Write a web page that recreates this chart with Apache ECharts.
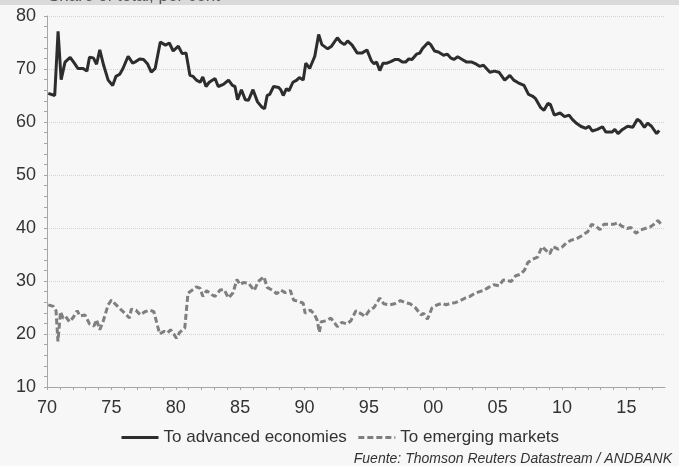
<!DOCTYPE html>
<html>
<head>
<meta charset="utf-8">
<title>Share of total, per cent</title>
<script src="https://cdn.jsdelivr.net/npm/echarts@6/dist/echarts.min.js"></script>
<style>
    html, body { margin: 0; padding: 0; background: #f7f7f7; }
    #chart { width: 679px; height: 466px; }
</style>
</head>
<body>
<div id="chart"></div>
<script>
// values (year as decimal, share in per cent)
var advYears = [1970.1, 1970.6, 1970.86, 1971.1, 1971.4, 1971.55, 1971.8, 1972.15, 1972.4, 1972.8,
    1973.1, 1973.3, 1973.6, 1973.85, 1974.1, 1974.4, 1974.75, 1975.1, 1975.35, 1975.65,
    1975.9, 1976.3, 1976.65, 1976.9, 1977.2, 1977.5, 1977.8, 1978.1, 1978.4, 1978.8,
    1979.2, 1979.5, 1979.8, 1980.2, 1980.5, 1980.8, 1981.1, 1981.35, 1981.6, 1981.9,
    1982.1, 1982.35, 1982.6, 1983.05, 1983.3, 1983.7, 1984.1, 1984.4, 1984.6, 1984.8,
    1985.1, 1985.4, 1985.65, 1986.0, 1986.35, 1986.7, 1986.9, 1987.1, 1987.3, 1987.6,
    1988.0, 1988.15, 1988.35, 1988.6, 1988.8, 1989.1, 1989.4, 1989.6, 1989.9, 1990.1,
    1990.4, 1990.8, 1991.1, 1991.35, 1991.8, 1992.1, 1992.55, 1992.8, 1993.1, 1993.35,
    1993.7, 1994.1, 1994.45, 1994.85, 1995.2, 1995.4, 1995.6, 1995.85, 1996.1, 1996.4,
    1996.7, 1997.05, 1997.3, 1997.6, 1997.85, 1998.1, 1998.35, 1998.7, 1998.95, 1999.15,
    1999.3, 1999.6, 1999.8, 2000.1, 2000.4, 2000.8, 2001.1, 2001.35, 2001.6, 2001.9,
    2002.25, 2002.6, 2003.0, 2003.35, 2003.6, 2003.9, 2004.4, 2004.75, 2005.1, 2005.55,
    2005.95, 2006.25, 2006.6, 2007.05, 2007.4, 2007.7, 2007.95, 2008.35, 2008.6, 2008.9,
    2009.1, 2009.4, 2009.85, 2010.2, 2010.55, 2010.8, 2011.15, 2011.45, 2011.85, 2012.1,
    2012.35, 2012.75, 2013.15, 2013.4, 2013.9, 2014.1, 2014.35, 2014.7, 2015.1, 2015.5,
    2015.85, 2016.05, 2016.4, 2016.65, 2016.95, 2017.35, 2017.55];
var advValues = [65.4, 65.0, 77.1, 68.0, 71.3, 71.1, 72.2, 71.0, 70.1, 70.1,
    69.6, 72.2, 72.1, 70.9, 73.6, 70.7, 67.9, 66.9, 68.6, 69.0,
    70.1, 72.4, 71.1, 71.4, 71.9, 71.8, 71.0, 69.4, 70.1, 75.1,
    74.5, 74.9, 73.4, 74.3, 72.9, 73.0, 68.8, 68.6, 67.9, 67.5,
    68.5, 66.7, 67.5, 68.2, 66.7, 67.1, 67.9, 66.9, 66.7, 64.2,
    66.1, 64.2, 64.1, 66.1, 63.8, 62.8, 62.5, 65.0, 65.2, 66.7,
    66.5, 66.1, 65.0, 66.3, 65.9, 67.5, 67.9, 68.4, 67.9, 71.1,
    70.1, 72.4, 76.5, 74.6, 73.8, 74.3, 75.9, 75.1, 74.6, 75.3,
    74.5, 73.0, 73.0, 73.6, 71.5, 71.0, 71.3, 69.7, 71.1, 71.1,
    71.4, 71.8, 71.8, 71.3, 71.3, 71.9, 71.8, 72.8, 73.0, 73.8,
    73.6, 75.0, 74.6, 73.4, 73.2, 72.6, 72.8, 72.1, 71.8, 72.3,
    71.8, 71.3, 71.3, 70.9, 70.5, 70.7, 69.4, 69.6, 69.4, 67.9,
    68.8, 67.9, 67.4, 66.9, 65.2, 64.9, 64.4, 62.7, 62.2, 63.5,
    63.3, 61.3, 61.7, 61.0, 61.3, 60.5, 59.7, 59.2, 58.8, 59.2,
    58.3, 58.6, 59.1, 58.1, 58.1, 58.6, 57.8, 58.6, 59.2, 59.0,
    60.5, 60.2, 59.0, 59.8, 59.2, 57.8, 58.4];

var emYears = [1970.1, 1970.5, 1970.7, 1970.85, 1971.05, 1971.25, 1971.45, 1971.75, 1972.0, 1972.35,
    1972.55, 1972.95, 1973.1, 1973.3, 1973.65, 1973.85, 1974.1, 1974.35, 1974.75, 1975.0,
    1975.45, 1975.7, 1976.1, 1976.4, 1976.55, 1976.9, 1977.25, 1977.6, 1978.0, 1978.3,
    1978.75, 1979.1, 1979.35, 1979.6, 1979.85, 1980.05, 1980.3, 1980.7, 1980.95, 1981.35,
    1981.6, 1981.9, 1982.1, 1982.4, 1982.8, 1983.05, 1983.45, 1983.75, 1984.1, 1984.45,
    1984.75, 1985.0, 1985.25, 1985.65, 1986.1, 1986.4, 1986.85, 1987.1, 1987.55, 1987.85,
    1988.15, 1988.5, 1988.9, 1989.15, 1989.6, 1989.9, 1990.05, 1990.45, 1990.75, 1991.0,
    1991.15, 1991.3, 1991.7, 1992.05, 1992.55, 1992.9, 1993.3, 1993.6, 1994.0, 1994.4,
    1994.7, 1995.05, 1995.4, 1995.85, 1996.15, 1996.6, 1997.0, 1997.45, 1997.85, 1998.2,
    1998.6, 1999.05, 1999.25, 1999.55, 1999.9, 2000.3, 2000.7, 2001.0, 2001.35, 2001.7,
    2002.1, 2002.5, 2002.85, 2003.25, 2003.6, 2003.9, 2004.3, 2004.7, 2005.1, 2005.45,
    2005.75, 2006.05, 2006.4, 2006.8, 2007.1, 2007.35, 2007.7, 2008.1, 2008.45, 2008.8,
    2009.05, 2009.3, 2009.7, 2010.0, 2010.35, 2010.7, 2011.15, 2011.5, 2012.0, 2012.3,
    2012.6, 2012.95, 2013.25, 2013.65, 2014.0, 2014.35, 2014.6, 2015.05, 2015.35, 2015.75,
    2016.05, 2016.45, 2016.85, 2017.15, 2017.45, 2017.7];
var emValues = [25.5, 25.2, 24.4, 18.6, 24.2, 23.0, 23.3, 22.3, 23.0, 24.4,
    23.4, 23.6, 23.6, 21.9, 21.5, 22.7, 20.8, 22.3, 25.5, 26.4,
    25.3, 24.7, 23.8, 23.0, 24.7, 24.5, 23.6, 24.2, 24.5, 24.2,
    20.0, 20.5, 20.2, 20.8, 20.0, 19.2, 20.3, 21.1, 27.7, 28.4,
    28.9, 28.6, 27.1, 28.2, 27.4, 27.1, 28.3, 28.4, 26.8, 27.8,
    30.3, 29.3, 29.7, 29.6, 28.2, 29.9, 30.8, 28.8, 28.2, 27.6,
    28.3, 27.8, 28.2, 26.4, 26.1, 25.8, 23.9, 24.5, 23.8, 22.5,
    20.3, 22.3, 22.5, 23.0, 21.4, 22.2, 21.9, 22.5, 24.4, 23.8,
    23.3, 24.5, 25.0, 26.8, 25.7, 25.5, 25.7, 26.3, 25.9, 25.7,
    25.0, 23.6, 23.9, 22.8, 24.9, 25.5, 25.8, 25.5, 25.8, 25.9,
    26.3, 26.8, 27.1, 27.7, 28.0, 28.2, 28.8, 29.3, 29.1, 30.2,
    30.1, 29.9, 31.0, 31.3, 32.1, 33.5, 34.1, 34.5, 36.5, 35.7,
    35.1, 36.5, 36.0, 36.4, 37.2, 37.7, 38.0, 38.5, 39.3, 40.7,
    40.4, 39.7, 40.7, 40.7, 40.7, 41.0, 40.4, 39.9, 40.1, 39.0,
    39.6, 39.9, 40.2, 40.7, 41.4, 40.7];

var seriesNames = ["To advanced economies", "To emerging markets"];
var titleText = "Share of total, per cent";
var sourceText = "Fuente: Thomson Reuters Datastream / ANDBANK";

function pairs(xs, ys) {
    var out = [];
    for (var i = 0; i < xs.length; ++i) {
        out.push([xs[i], ys[i]]);
    }
    return out;
}

var font = "'Liberation Sans', Arial, sans-serif";
var chart = echarts.init(document.getElementById("chart"), null, { renderer: "canvas" });

var option = {
    animation: false,
    backgroundColor: "#f7f7f7",
    textStyle: { fontFamily: font },
    grid: { left: 47, right: 14, top: 16, bottom: 79, containLabel: false },
    xAxis: {
        type: "value",
        min: 1970,
        max: 2018,
        interval: 1,
        axisLine: { lineStyle: { color: "#a6a6a6", width: 1 } },
        axisTick: { show: true, length: 3, lineStyle: { color: "#a6a6a6" } },
        axisLabel: {
            color: "#333",
            fontSize: 18,
            margin: 12,
            showMaxLabel: false,
            formatter: function (v) {
                if (v % 5 !== 0) return "";
                var s = String(v % 100);
                return s.length < 2 ? "0" + s : s;
            }
        },
        splitLine: { show: false }
    },
    yAxis: {
        type: "value",
        min: 10,
        max: 80,
        interval: 10,
        axisLine: { show: true, lineStyle: { color: "#a6a6a6", width: 1 } },
        axisTick: { show: true, length: 3, lineStyle: { color: "#a6a6a6" } },
        minorTick: { show: true, splitNumber: 5, length: 3, lineStyle: { color: "#a6a6a6" } },
        axisLabel: { color: "#333", fontSize: 18, margin: 11 },
        splitLine: { show: true, lineStyle: { color: "#d4d4d4", type: "dotted", width: 1 } }
    },
    legend: {
        left: 115,
        top: 424,
        itemWidth: 37,
        itemHeight: 14,
        itemGap: 10,
        itemStyle: { opacity: 0 },
        lineStyle: { width: 3 },
        textStyle: { color: "#333", fontSize: 17, fontFamily: font },
        data: seriesNames
    },
    graphic: [
        { type: "rect", left: 0, top: 0, shape: { width: 679, height: 5 }, style: { fill: "#dadada" }, z: 0 },
        {
            type: "text", x: 48, y: 5, z: 10,
            style: { text: titleText, fill: "#555", font: "17px " + font, verticalAlign: "bottom" }
        },
        {
            type: "text", x: 672, y: 459, z: 10,
            style: { text: sourceText, fill: "#333", font: "italic 14px " + font, align: "right", verticalAlign: "middle" }
        }
    ],
    series: [
        {
            name: seriesNames[0],
            type: "line",
            symbol: "none",
            data: pairs(advYears, advValues),
            lineStyle: { color: "#2d2d2d", width: 3 },
            itemStyle: { color: "#2d2d2d" },
            z: 3
        },
        {
            name: seriesNames[1],
            type: "line",
            symbol: "none",
            data: pairs(emYears, emValues),
            lineStyle: { color: "#7f7f7f", width: 3, type: [6, 3] },
            itemStyle: { color: "#7f7f7f" },
            z: 2
        }
    ]
};
chart.setOption(option);
</script>
</body>
</html>
